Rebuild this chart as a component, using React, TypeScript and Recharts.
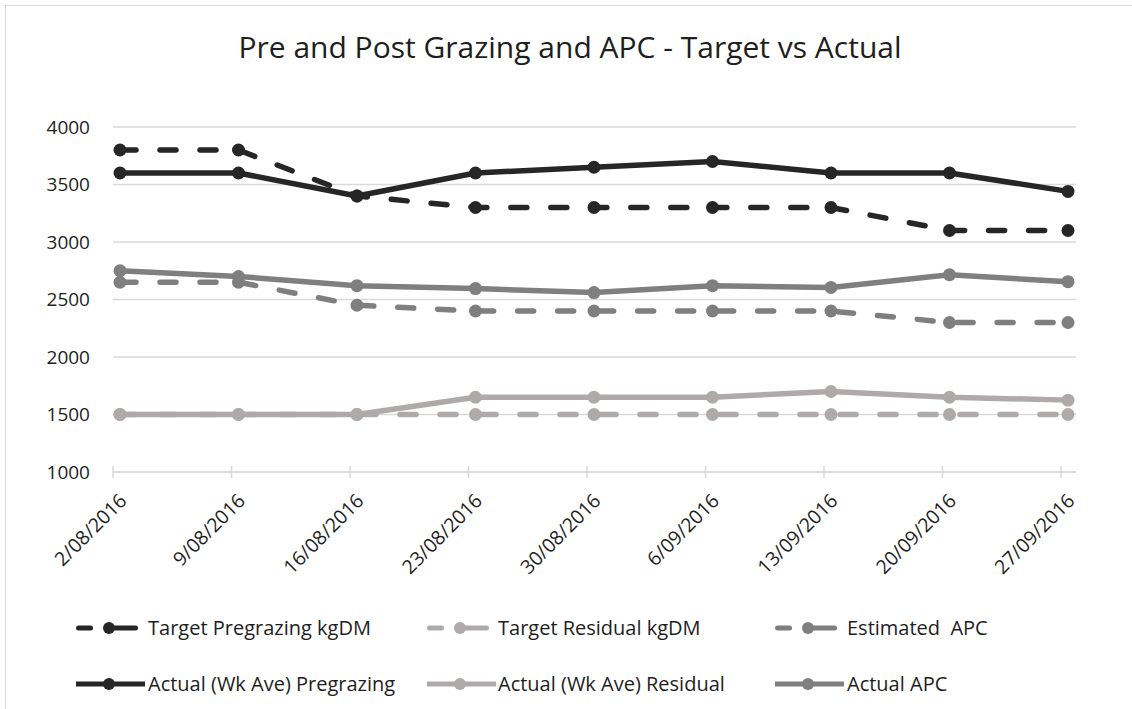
import React from 'react';
import { LineChart, Line, XAxis, YAxis, CartesianGrid, Legend } from 'recharts';

const categories = ['2/08/2016', '9/08/2016', '16/08/2016', '23/08/2016', '30/08/2016', '6/09/2016', '13/09/2016', '20/09/2016', '27/09/2016'];
const targetPregrazing = [3800, 3800, 3400, 3300, 3300, 3300, 3300, 3100, 3100];
const targetResidual = [1500, 1500, 1500, 1500, 1500, 1500, 1500, 1500, 1500];
const estimatedApc = [2650, 2650, 2450, 2400, 2400, 2400, 2400, 2300, 2300];
const actualPregrazing = [3600, 3600, 3400, 3600, 3650, 3700, 3600, 3600, 3440];
const actualResidual = [1500, 1500, 1500, 1650, 1650, 1650, 1700, 1650, 1625];
const actualApc = [2750, 2700, 2620, 2595, 2560, 2620, 2605, 2715, 2655];
const yTicks = [1000, 1500, 2000, 2500, 3000, 3500, 4000];

const DARK = '#262626';
const MID = '#7f7f7f';
const LIGHT = '#aeaaaa';
const GRID = '#d9d9d9';
const TEXT = '#1e1e1e';
const FONT = '"Open Sans", sans-serif';

const data = categories.map((date, i) => ({
  date,
  targetPre: targetPregrazing[i],
  targetRes: targetResidual[i],
  estApc: estimatedApc[i],
  actualPre: actualPregrazing[i],
  actualRes: actualResidual[i],
  actualApcV: actualApc[i],
}));

const series = [
  { key: 'targetPre', name: 'Target Pregrazing kgDM', color: DARK, dashed: true },
  { key: 'targetRes', name: 'Target Residual kgDM', color: LIGHT, dashed: true },
  { key: 'estApc', name: 'Estimated  APC', color: MID, dashed: true },
  { key: 'actualPre', name: 'Actual (Wk Ave) Pregrazing', color: DARK, dashed: false },
  { key: 'actualRes', name: 'Actual (Wk Ave) Residual', color: LIGHT, dashed: false },
  { key: 'actualApcV', name: 'Actual APC', color: MID, dashed: false },
];

const legendCols = [109, 460, 808];
const legendTextX = [148, 498, 847];
const legendRowY = [628, 684];

const XTick = (props: any) => {
  const { x, y, payload } = props;
  const ax = x + 8;
  const ay = y + 30;
  return (
    <g>
      <line x1={x - 7} x2={x - 7} y1={y - 6} y2={y + 6} stroke={GRID} strokeWidth={1.5} />
      <text x={ax} y={ay} textAnchor="end" fill={TEXT} fontSize={19.5} fontFamily={FONT} transform={`rotate(-45, ${ax}, ${ay})`}>
        {payload.value}
      </text>
    </g>
  );
};

const renderLegend = (props: any) => {
  const payload = props.payload || [];
  return (
    <svg width={1132} height={709} style={{ position: 'absolute', left: 0, top: 0, pointerEvents: 'none' }}>
      {payload.map((entry: any) => {
        const idx = series.findIndex((s) => s.key === entry.dataKey);
        if (idx < 0) return null;
        const s = series[idx];
        const col = idx % 3;
        const row = Math.floor(idx / 3);
        const cx = legendCols[col];
        const cy = legendRowY[row];
        return (
          <g key={s.key}>
            {s.dashed ? (
              <g>
                <line x1={cx - 33 + 2.5} x2={cx - 16 - 2.5} y1={cy} y2={cy} stroke={s.color} strokeWidth={5} strokeLinecap="round" />
                <line x1={cx} x2={cx + 29 - 2.5} y1={cy} y2={cy} stroke={s.color} strokeWidth={5} strokeLinecap="round" />
              </g>
            ) : (
              <line x1={cx - 33} x2={cx + 36} y1={cy} y2={cy} stroke={s.color} strokeWidth={5} />
            )}
            <circle cx={cx} cy={cy} r={6} fill={s.color} />
            <text x={legendTextX[col]} y={cy + 7} fill={TEXT} fontSize={20} fontFamily={FONT} style={{ whiteSpace: 'pre' }}>
              {entry.value}
            </text>
          </g>
        );
      })}
    </svg>
  );
};

export default function App() {
  return (
    <div style={{ position: 'absolute', left: 0, top: 0, width: 1132, height: 709, background: '#fff', fontFamily: FONT, overflow: 'hidden' }}>
      <div style={{ position: 'absolute', left: 5, top: 5, width: 1140, height: 720, borderTop: `1px solid ${GRID}`, borderLeft: `1px solid ${GRID}` }} />
      <svg width={1132} height={80} style={{ position: 'absolute', left: 0, top: 0 }}>
        <text x={570} y={58} textAnchor="middle" fill={TEXT} fontSize={30} fontFamily={FONT}>
          Pre and Post Grazing and APC - Target vs Actual
        </text>
      </svg>
      <div style={{ position: 'absolute', left: 0, top: 0 }}>
        <LineChart width={1132} height={709} data={data} margin={{ top: 127, right: 56, left: 53, bottom: 117 }}>
          <CartesianGrid vertical={false} stroke={GRID} strokeWidth={1.5} />
          <XAxis
            dataKey="date"
            interval={0}
            padding={{ left: 7, right: 8 }}
            axisLine={{ stroke: GRID, strokeWidth: 1.5 }}
            tickLine={false}
            tickSize={0}
            tickMargin={0}
            height={120}
            tick={<XTick />}
          />
          <YAxis
            domain={[1000, 4000]}
            ticks={yTicks}
            width={60}
            axisLine={false}
            tickLine={false}
            tickSize={0}
            tickMargin={23}
            tick={{ fill: TEXT, fontSize: 19, fontFamily: FONT }}
          />
          <Legend layout="horizontal" verticalAlign="middle" align="center" wrapperStyle={{ left: 0, top: 0, width: 1132, height: 709 }} content={renderLegend} />
          {series.map((s) => (
            <Line
              key={s.key}
              type="linear"
              dataKey={s.key}
              name={s.name}
              stroke={s.color}
              strokeWidth={5.5}
              strokeLinecap="round"
              strokeLinejoin="round"
              strokeDasharray={s.dashed ? '16 24' : undefined}
              dot={{ r: 6.5, fill: s.color, stroke: 'none', strokeDasharray: '0' }}
              activeDot={false}
              isAnimationActive={false}
            />
          ))}
        </LineChart>
      </div>
    </div>
  );
}
